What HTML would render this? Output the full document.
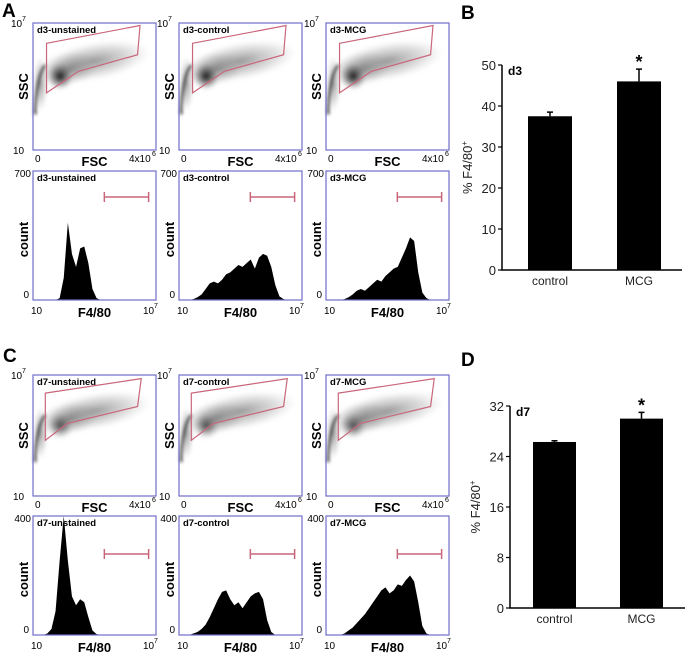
<!DOCTYPE html>
<html><head><meta charset="utf-8"><style>
body{margin:0;background:#fff;}
svg{display:block;font-family:"Liberation Sans",Arial,sans-serif;}
</style></head><body>
<svg id="fig" width="685" height="656" viewBox="0 0 685 656">
<defs>
<radialGradient id="cg"><stop offset="0" stop-color="#000" stop-opacity="0.9"/><stop offset="0.5" stop-color="#333" stop-opacity="0.5"/><stop offset="1" stop-color="#888" stop-opacity="0"/></radialGradient>
<radialGradient id="lg"><stop offset="0" stop-color="#555" stop-opacity="0.6"/><stop offset="0.6" stop-color="#888" stop-opacity="0.3"/><stop offset="1" stop-color="#aaa" stop-opacity="0"/></radialGradient>
<filter id="bl"><feGaussianBlur stdDeviation="1.5"/></filter>
</defs>
<text x="2" y="17" font-size="19" font-weight="bold">A</text>
<text x="461" y="19" font-size="19" font-weight="bold">B</text>
<text x="3" y="362" font-size="19" font-weight="bold">C</text>
<text x="461" y="366" font-size="19" font-weight="bold">D</text>
</svg>
<script>
const NS="http://www.w3.org/2000/svg";
const fig=document.getElementById('fig');
function mk(tag,attrs,parent,txt){const e=document.createElementNS(NS,tag);for(const k in attrs)e.setAttribute(k,attrs[k]);if(txt!==undefined)e.textContent=txt;(parent||fig).appendChild(e);return e;}

// ---- Data ----
const histTitlesD3=["d3-unstained","d3-control","d3-MCG"];
const histTitlesD7=["d7-unstained","d7-control","d7-MCG"];
const histD3Unstained=[0,0,0,0,0,0,10,120,420,250,180,280,290,200,60,10,0,0,0,0,0,0,0,0,0,0,0,0,0,0];
const histD3Control=[0,0,0,5,15,30,60,90,100,90,110,140,150,170,190,180,200,220,170,230,250,240,180,80,20,5,0,0,0,0];
const histD3MCG=[0,0,0,0,5,15,30,50,60,50,70,90,110,100,130,150,170,180,230,280,340,320,150,40,10,0,0,0,0,0];
const histD7Unstained=[0,0,0,5,20,80,250,420,250,130,100,120,110,60,15,3,0,0,0,0,0,0,0,0,0,0,0,0,0,0];
const histD7Control=[0,0,0,5,10,20,35,60,90,120,145,150,120,100,110,90,110,130,140,145,120,50,10,0,0,0,0,0,0,0];
const histD7MCG=[0,0,0,0,5,15,25,40,55,70,90,110,130,150,160,140,150,170,165,185,200,180,110,30,5,0,0,0,0,0];
const barCategories=["control","MCG"];
const d3Values=[37.5,46];
const d3Errors=[1,3];
const d3Ticks=[0,10,20,30,40,50];
const d7Values=[26.3,30];
const d7Errors=[0.2,1];
const d7Ticks=[0,8,16,24,32];

const cols=[33,179,326], PW=123;
const blue="#6f6fc8", pink="#c9667a";

function scatter(x,y,h,title,gate,day){
  const g=mk('g',{},fig);
  
  
  const cl=mk('g',{filter:'url(#bl)'},g);
  mk('ellipse',{cx:x+PW*0.5,cy:y+h*0.3,rx:PW*0.46,ry:h*0.15,fill:'url(#lg)',transform:`rotate(-10 ${x+PW*0.5} ${y+h*0.3})`},cl);
  mk('ellipse',{cx:x+PW*0.3,cy:y+h*0.36,rx:PW*0.25,ry:h*0.13,fill:'url(#lg)',transform:`rotate(-12 ${x+PW*0.3} ${y+h*0.36})`},cl);
  mk('ellipse',{cx:x+PW*0.22,cy:y+h*0.42,rx:PW*0.11,ry:h*0.11,fill:'url(#cg)',opacity:day==3?1:0.7},cl);
  mk('ellipse',{cx:x+PW*0.06,cy:y+h*0.48,rx:PW*0.06,ry:h*0.22,fill:'url(#lg)'},cl);
  mk('path',{d:`M${x+2} ${y+h*0.72} Q${x+3} ${y+h*0.42} ${x+PW*0.1} ${y+h*0.33}`,stroke:'#111',"stroke-width":2.5,fill:'none',opacity:0.85},cl);
  mk('rect',{x:x,y:y,width:PW,height:h,fill:'none',stroke:blue,"stroke-width":1.2},g);
  const pts=gate.map(p=>(x+p[0]*PW)+','+(y+p[1]*h)).join(' ');
  const gp=mk('polygon',{points:pts,fill:'none',stroke:pink,"stroke-width":1.2},g);
   
  mk('text',{x:x+4,y:y+10,"font-size":9.5,"font-weight":"bold"},g,title);
  mk('text',{x:x-22,y:y+4,"font-size":10},g,'10');
  mk('text',{x:x-11,y:y-2,"font-size":7},g,'7');
  mk('text',{x:x-20,y:y+h+4,"font-size":10},g,'10');
  mk('text',{x:x+2,y:y+h+12,"font-size":10},g,'0');
  mk('text',{x:x+PW-27,y:y+h+12,"font-size":10},g,'4x10');
  mk('text',{x:x+PW-4,y:y+h+6,"font-size":7},g,'6');
  mk('text',{x:x+PW/2,y:y+h+16,"font-size":13,"font-weight":"bold","text-anchor":"middle"},g,'FSC');
  mk('text',{x:x-5,y:y+h/2,"font-size":13,"font-weight":"bold","text-anchor":"middle",transform:`rotate(-90 ${x-5} ${y+h/2})`},g,'SSC');
}
function hist(x,y,h,title,data,max,ymaxLabel,rangeY){
  const g=mk('g',{},fig);
  
  
  const n=data.length, bw=PW/n;
  const sx=i=>x+(i+0.5)*bw, sy=v=>y+h-Math.min(v,max)/max*h;
  let d=`M${x} ${y+h}`;
  data.forEach((v,i)=>{d+=` L${sx(i)} ${sy(v)}`;});
  d+=` L${x+PW} ${y+h} Z`;
  const p=mk('path',{d:d,fill:'#000'},g);
   
  mk('rect',{x:x,y:y,width:PW,height:h,fill:'none',stroke:blue,"stroke-width":1.2},g);
  const rx1=x+PW*0.58, rx2=x+PW*0.94, ry=y+rangeY;
  const rg=mk('path',{d:`M${rx1} ${ry}H${rx2}M${rx1} ${ry-5}V${ry+5}M${rx2} ${ry-5}V${ry+5}`,stroke:pink,"stroke-width":1.5,fill:'none'},g);
   
  mk('text',{x:x+4,y:y+10,"font-size":9.5,"font-weight":"bold"},g,title);
  mk('text',{x:x-2,y:y+6,"font-size":10,"text-anchor":"end"},g,ymaxLabel);
  mk('text',{x:x-4,y:y+h-2,"font-size":10,"text-anchor":"end"},g,'0');
  mk('text',{x:x-2,y:y+h+14,"font-size":10},g,'10');
  mk('text',{x:x+PW-13,y:y+h+14,"font-size":10},g,'10');
  mk('text',{x:x+PW-2,y:y+h+8,"font-size":7},g,'7');
  mk('text',{x:x+PW/2,y:y+h+17,"font-size":13,"font-weight":"bold","text-anchor":"middle"},g,'F4/80');
  mk('text',{x:x-5,y:y+h/2+4,"font-size":13,"font-weight":"bold","text-anchor":"middle",transform:`rotate(-90 ${x-5} ${y+h/2+4})`},g,'count');
}
const gate3=[[0.11,0.16],[0.87,0.02],[0.85,0.25],[0.37,0.38],[0.11,0.55]];
const gate7=[[0.10,0.15],[0.88,0.03],[0.85,0.26],[0.28,0.40],[0.10,0.54]];
const scTitles3=["d3-unstained","d3-control","d3-MCG"], scTitles7=["d7-unstained","d7-control","d7-MCG"];
const h3=[histD3Unstained,histD3Control,histD3MCG], h7=[histD7Unstained,histD7Control,histD7MCG];
cols.forEach((cx,i)=>{
  scatter(cx,23,127,scTitles3[i],gate3,3);
  hist(cx,171,129,histTitlesD3[i],h3[i],700,'700',26);
  scatter(cx,375,121,scTitles7[i],gate7,7);
  hist(cx,516,119,histTitlesD7[i],h7[i],400,'400',38);
});

function barChart(ax,y0,yTop,maxV,ticks,vals,errs,label,barX,bw){
  const g=mk('g',{},fig);
  
  
  const sy=v=>y0-(v/maxV)*(y0-yTop);
  vals.forEach((v,i)=>{
    const r=mk('rect',{x:barX[i],y:sy(v),width:bw,height:y0-sy(v),fill:'#000'},g);
     
    const cx=barX[i]+bw/2;
    const e=mk('path',{d:`M${cx} ${sy(v)}V${sy(v+errs[i])}M${cx-3} ${sy(v+errs[i])}H${cx+3}`,stroke:'#000',"stroke-width":1.5},g);
     
    mk('text',{x:cx,y:y0+15,"font-size":12,"text-anchor":"middle",fill:'#222'},g,barCategories[i]);
  });
  mk('path',{d:`M${ax} ${yTop}V${y0}H${ax+180}`,stroke:'#000',"stroke-width":1.5,fill:'none'},g);
  ticks.forEach(t=>{
    mk('path',{d:`M${ax-4} ${sy(t)}H${ax}`,stroke:'#000',"stroke-width":1.2},g);
    mk('text',{x:ax-6,y:sy(t)+5,"font-size":13,"text-anchor":"end",fill:'#222'},g,String(t));
  });
  mk('text',{x:ax+6,y:yTop+10,"font-size":12,"font-weight":"bold"},g,label);
  const mi=barX[1]+bw/2;
  mk('text',{x:mi,y:sy(vals[1]+errs[1])-1,"font-size":18,"font-weight":"bold","text-anchor":"middle"},g,'*');
  const ly=(y0+yTop)/2, lx=ax-30;
  const t=mk('text',{x:lx,y:ly,"font-size":13,"text-anchor":"middle",fill:'#222',transform:`rotate(-90 ${lx} ${ly})`},g,'% F4/80');
  mk('tspan',{"font-size":8,dy:-5},t,'+');
}
barChart(502,270,65,50,d3Ticks,d3Values,d3Errors,'d3',[528,617],44);
barChart(510,608,406,32,d7Ticks,d7Values,d7Errors,'d7',[533,620],43);
</script>
</body></html>
